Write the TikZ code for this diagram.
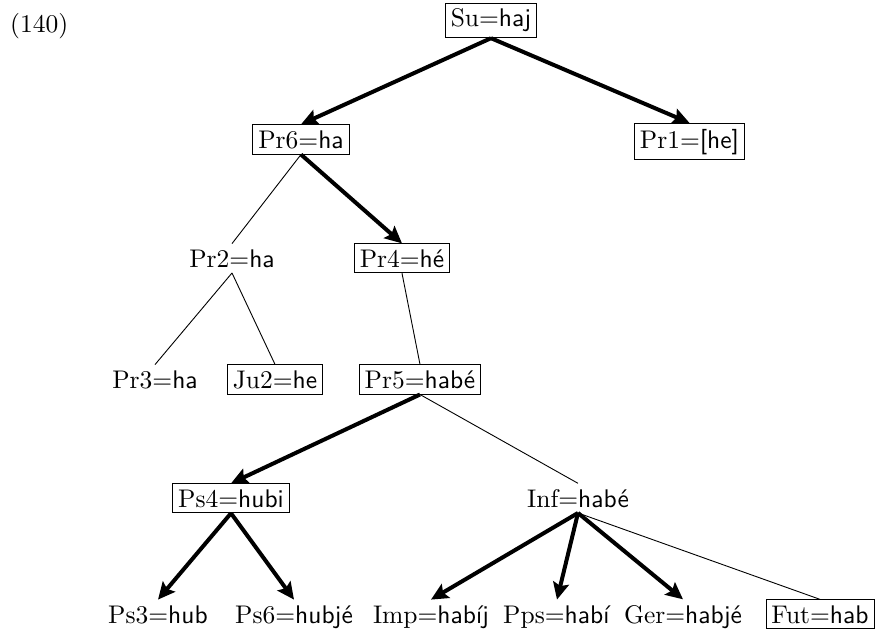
\documentclass[tikz,border=0pt]{standalone}
\usepackage{fontspec}
\setmainfont{lmroman10-regular.otf}
\setsansfont{lmsans10-regular.otf}
\usetikzlibrary{arrows.meta}
\begin{document}
\begin{tikzpicture}[x=1pt,y=-1pt,
  every node/.style={font=\fontsize{25.5}{30}\selectfont, inner sep=5.5pt, anchor=base},
  boxed/.style={draw, line width=0.9pt},
  lightedge/.style={line width=0.9pt},
  heavyedge/.style={line width=4pt, -{Stealth[length=17pt,width=16pt,inset=3pt]}},
]
\useasboundingbox (0,0) rectangle (879,637);
\node[anchor=base west] (num) at (4.5,32) {(140)};
\node[boxed] (su)  at (491,27)  {Su=\textsf{haj}};
\node[boxed] (pr6) at (301,148) {Pr6=\textsf{ha}};
\node[boxed] (pr1) at (689.5,148) {Pr1=\textsf{[he]}};
\node (pr2) at (232,267) {Pr2=\textsf{ha}};
\node[boxed] (pr4) at (402,267) {Pr4=\textsf{hé}};
\node (pr3) at (155,388) {Pr3=\textsf{ha}};
\node[boxed] (ju2) at (275,388) {Ju2=\textsf{he}};
\node[boxed] (pr5) at (420,388) {Pr5=\textsf{habé}};
\node[boxed] (ps4) at (231,507) {Ps4=\textsf{hubi}};
\node (inf) at (578,507) {Inf=\textsf{habé}};
\node (ps3) at (158,623) {Ps3=\textsf{hub}};
\node (ps6) at (294,623) {Ps6=\textsf{hubjé}};
\node (imp) at (431,623) {Imp=\textsf{habíj}};
\node (pps) at (557,623) {Pps=\textsf{habí}};
\node (ger) at (683,623) {Ger=\textsf{habjé}};
\node[boxed] (fut) at (820,623) {Fut=\textsf{hab}};
\draw[heavyedge] (su.south) -- (pr6.north);
\draw[heavyedge] (su.south) -- (pr1.north);
\draw[lightedge] (pr6.south) -- (pr2.north);
\draw[heavyedge] (pr6.south) -- (pr4.north);
\draw[lightedge] (pr2.south) -- (pr3.north);
\draw[lightedge] (pr2.south) -- (ju2.north);
\draw[lightedge] (pr4.south) -- (pr5.north);
\draw[heavyedge] (pr5.south) -- (ps4.north);
\draw[lightedge] (pr5.south) -- (inf.north);
\draw[heavyedge] (ps4.south) -- (ps3.north);
\draw[heavyedge] (ps4.south) -- (ps6.north);
\draw[heavyedge] (inf.south) -- (imp.north);
\draw[heavyedge] (inf.south) -- (pps.north);
\draw[heavyedge] (inf.south) -- (ger.north);
\draw[lightedge] (inf.south) -- (fut.north);
\end{tikzpicture}
\end{document}
